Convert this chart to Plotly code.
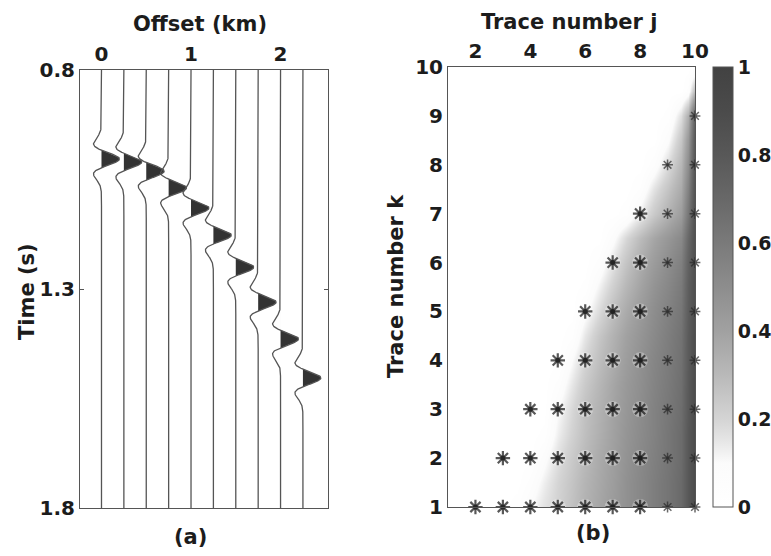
import numpy as np
import plotly.graph_objects as go

W, H = 771, 556

# ---------------- data: panel (a) ----------------
offsets_km = [0.0, 0.25, 0.5, 0.75, 1.0, 1.25, 1.5, 1.75, 2.0, 2.25]
arrival_s = [1.003, 1.010, 1.031, 1.069, 1.115, 1.177, 1.250, 1.330, 1.414, 1.503]
offset_ticks = [0, 1, 2]
time_ticks = [0.8, 1.3, 1.8]

# ---------------- data: panel (b) ----------------
j_grid = [1, 1.5, 2, 2.5, 3, 3.5, 4, 4.5, 5, 5.5, 6, 6.5, 7, 7.5, 8, 8.5, 9, 9.5, 9.75, 10]
k_grid = [1, 1.5, 2, 2.5, 3, 3.5, 4, 4.5, 5, 5.5, 6, 6.5, 7, 7.5, 8, 8.5, 9, 9.5, 10]
similarity = [
    [0, 0, 0, 0, 0, 0.03, 0.10, 0.16, 0.21, 0.27, 0.33, 0.38, 0.43, 0.48, 0.53, 0.58, 0.63, 0.69, 0.80, 0.90],
    [0, 0, 0, 0, 0, 0, 0.05, 0.13, 0.20, 0.26, 0.32, 0.37, 0.42, 0.48, 0.53, 0.58, 0.63, 0.69, 0.80, 0.90],
    [0, 0, 0, 0, 0, 0, 0, 0.08, 0.17, 0.24, 0.30, 0.36, 0.41, 0.47, 0.52, 0.57, 0.62, 0.68, 0.80, 0.90],
    [0, 0, 0, 0, 0, 0, 0, 0.02, 0.13, 0.21, 0.28, 0.34, 0.40, 0.46, 0.51, 0.56, 0.62, 0.68, 0.80, 0.90],
    [0, 0, 0, 0, 0, 0, 0, 0, 0.10, 0.19, 0.27, 0.33, 0.39, 0.45, 0.50, 0.56, 0.61, 0.67, 0.79, 0.90],
    [0, 0, 0, 0, 0, 0, 0, 0, 0.05, 0.15, 0.24, 0.31, 0.38, 0.44, 0.49, 0.55, 0.60, 0.66, 0.79, 0.90],
    [0, 0, 0, 0, 0, 0, 0, 0, 0, 0.10, 0.20, 0.28, 0.35, 0.42, 0.48, 0.54, 0.59, 0.65, 0.78, 0.89],
    [0, 0, 0, 0, 0, 0, 0, 0, 0, 0.03, 0.15, 0.25, 0.33, 0.40, 0.46, 0.52, 0.58, 0.64, 0.78, 0.89],
    [0, 0, 0, 0, 0, 0, 0, 0, 0, 0, 0.08, 0.18, 0.28, 0.36, 0.43, 0.50, 0.56, 0.62, 0.77, 0.88],
    [0, 0, 0, 0, 0, 0, 0, 0, 0, 0, 0.02, 0.12, 0.22, 0.31, 0.39, 0.47, 0.53, 0.60, 0.76, 0.88],
    [0, 0, 0, 0, 0, 0, 0, 0, 0, 0, 0, 0.05, 0.16, 0.26, 0.35, 0.43, 0.50, 0.57, 0.74, 0.87],
    [0, 0, 0, 0, 0, 0, 0, 0, 0, 0, 0, 0, 0.08, 0.19, 0.29, 0.38, 0.45, 0.52, 0.70, 0.87],
    [0, 0, 0, 0, 0, 0, 0, 0, 0, 0, 0, 0, 0, 0.03, 0.13, 0.24, 0.33, 0.42, 0.62, 0.86],
    [0, 0, 0, 0, 0, 0, 0, 0, 0, 0, 0, 0, 0, 0, 0.04, 0.16, 0.26, 0.36, 0.56, 0.85],
    [0, 0, 0, 0, 0, 0, 0, 0, 0, 0, 0, 0, 0, 0, 0, 0.06, 0.18, 0.31, 0.50, 0.84],
    [0, 0, 0, 0, 0, 0, 0, 0, 0, 0, 0, 0, 0, 0, 0, 0, 0.09, 0.25, 0.44, 0.82],
    [0, 0, 0, 0, 0, 0, 0, 0, 0, 0, 0, 0, 0, 0, 0, 0, 0.02, 0.17, 0.34, 0.78],
    [0, 0, 0, 0, 0, 0, 0, 0, 0, 0, 0, 0, 0, 0, 0, 0, 0, 0, 0.05, 0.30],
    [0, 0, 0, 0, 0, 0, 0, 0, 0, 0, 0, 0, 0, 0, 0, 0, 0, 0, 0, 0],
]
star_j = [2, 3, 4, 5, 6, 7, 8, 9, 10,
          3, 4, 5, 6, 7, 8, 9, 10,
          4, 5, 6, 7, 8, 9, 10,
          5, 6, 7, 8, 9, 10,
          6, 7, 8, 9, 10,
          7, 8, 9, 10,
          8, 9, 10,
          9, 10,
          10]
star_k = [1, 1, 1, 1, 1, 1, 1, 1, 1,
          2, 2, 2, 2, 2, 2, 2, 2,
          3, 3, 3, 3, 3, 3, 3,
          4, 4, 4, 4, 4, 4,
          5, 5, 5, 5, 5,
          6, 6, 6, 6,
          7, 7, 7,
          8, 8,
          9]
cbar_ticks = [0, 0.2, 0.4, 0.6, 0.8, 1]
cbar_labels = ["0", "0.2", "0.4", "0.6", "0.8", "1"]

# ---------------- styling helpers ----------------
FONT = "DejaVu Sans"
TXT = "#1c1c1c"
FRAME = "#555555"


def px_x(x):
    return x / W


def px_y(y):
    return 1 - y / H


fig = go.Figure()

# ---------------- panel (a): seismic wiggle traces ----------------
t = np.arange(0.8, 1.8001, 0.001)
freq = 11.25
amp_km = 0.2
for off, t0 in zip(offsets_km, arrival_s):
    a = (np.pi * freq * (t - t0)) ** 2
    w = (1 - 2 * a) * np.exp(-a)
    xs = off + amp_km * w
    xfill = off + amp_km * np.clip(w, 0, None)
    fig.add_trace(go.Scatter(x=xfill, y=t, mode="lines", fill="toself",
                             fillcolor="#333333", line=dict(width=0),
                             xaxis="x", yaxis="y", showlegend=False, hoverinfo="skip"))
    fig.add_trace(go.Scatter(x=xs, y=t, mode="lines",
                             line=dict(color="#555555", width=1.3),
                             xaxis="x", yaxis="y", showlegend=False, hoverinfo="skip"))

# ---------------- panel (b): heatmap + stars ----------------
colorscale = [
    [0.0, "#ffffff"], [0.1, "#fbfbfb"], [0.15, "#e6e6e6"], [0.2, "#d4d4d4"],
    [0.3, "#b9b9b9"], [0.4, "#a1a1a1"], [0.5, "#8d8d8d"], [0.6, "#7a7a7a"],
    [0.7, "#686868"], [0.8, "#585858"], [0.9, "#4b4b4b"], [1.0, "#424242"],
]
fig.add_trace(go.Heatmap(
    x=j_grid, y=k_grid, z=similarity, zmin=0, zmax=1, zsmooth="best",
    colorscale=colorscale, xaxis="x2", yaxis="y2", hoverinfo="skip",
    colorbar=dict(
        x=px_x(713), xanchor="left", xpad=0, ypad=0,
        y=px_y(507), yanchor="bottom", len=440 / H, lenmode="fraction",
        thickness=20, thicknessmode="pixels",
        outlinewidth=1, outlinecolor=FRAME,
        tickvals=cbar_ticks, ticktext=cbar_labels, ticks="", ticklen=0,
        tickfont=dict(family=FONT, size=19, color=TXT, weight="bold"),
    ),
))

halo_j = [jj for jj in star_j if jj <= 8]
halo_k = [kk for jj, kk in zip(star_j, star_k) if jj <= 8]
fig.add_trace(go.Scatter(x=halo_j, y=halo_k, mode="markers", xaxis="x2", yaxis="y2",
                         marker=dict(symbol="circle", size=16, color="rgba(255,255,255,0.3)",
                                     line=dict(width=0)),
                         cliponaxis=False, showlegend=False, hoverinfo="skip"))
star_size = [12 if jj <= 8 else 9 for jj in star_j]
star_col = ["#111111" if jj <= 8 else "#2a2a2a" for jj in star_j]
star_w = [2.2 if jj <= 8 else 1.5 for jj in star_j]
core_size = [5 if jj <= 8 else 3 for jj in star_j]
fig.add_trace(go.Scatter(x=star_j, y=star_k, mode="markers", xaxis="x2", yaxis="y2",
                         marker=dict(symbol="circle", size=core_size, color=star_col,
                                     line=dict(width=0)),
                         cliponaxis=False, showlegend=False, hoverinfo="skip"))
fig.add_trace(go.Scatter(x=star_j, y=star_k, mode="markers", xaxis="x2", yaxis="y2",
                         marker=dict(symbol="asterisk-open", size=star_size, color=star_col,
                                     line=dict(width=star_w, color=star_col)),
                         cliponaxis=False, showlegend=False, hoverinfo="skip"))

# ---------------- axes ----------------
tickfont = dict(family=FONT, size=20, color=TXT, weight="bold")
common = dict(showline=True, linecolor=FRAME, linewidth=1,
              showgrid=False, zeroline=False, tickfont=tickfont, automargin=False)

fig.update_layout(
    width=W, height=H, margin=dict(l=0, r=0, t=0, b=0),
    paper_bgcolor="white", plot_bgcolor="white",
    xaxis=dict(domain=[px_x(80), px_x(328)], range=[-0.24, 2.53], side="top",
               tickvals=offset_ticks, ticks="", anchor="y", mirror=True, **common),
    yaxis=dict(domain=[px_y(508), px_y(70)], range=[1.8, 0.8], tickvals=time_ticks,
               ticktext=["0.8", "1.3", "1.8"], ticks="inside", ticklen=4,
               tickcolor=FRAME, anchor="x", mirror="ticks", **common),
    xaxis2=dict(domain=[px_x(448), px_x(695)], range=[1, 10], side="top",
                tickvals=[2, 4, 6, 8, 10], ticks="", anchor="y2", mirror=True, **common),
    yaxis2=dict(domain=[px_y(507), px_y(67)], range=[1, 10],
                tickvals=[1, 2, 3, 4, 5, 6, 7, 8, 9, 10], ticks="", anchor="x2",
                mirror=True, **common),
)

titlefont = dict(family=FONT, size=21, color=TXT, weight="bold")
ann = [
    dict(text="Offset (km)", x=px_x(200), y=px_y(24), textangle=0),
    dict(text="Time (s)", x=px_x(27), y=px_y(292), textangle=-90),
    dict(text="Trace number j", x=px_x(569), y=px_y(22), textangle=0),
    dict(text="Trace number k", x=px_x(396), y=px_y(286), textangle=-90),
    dict(text="(a)", x=px_x(190), y=px_y(537), textangle=0),
    dict(text="(b)", x=px_x(593), y=px_y(533), textangle=0),
]
for a in ann:
    fig.add_annotation(xref="paper", yref="paper", showarrow=False,
                       xanchor="center", yanchor="middle", font=titlefont, **a)

fig.write_html("out.html")
